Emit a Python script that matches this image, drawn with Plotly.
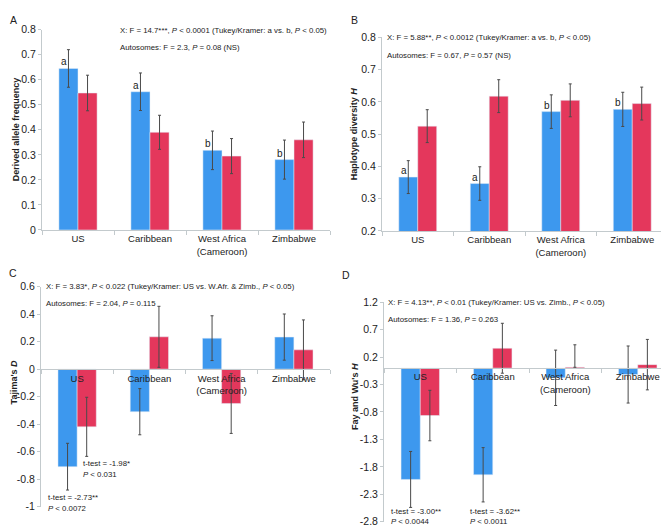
import plotly.graph_objects as go

W, H = 669, 527

categories = ["US", "Caribbean", "West Africa<br>(Cameroon)", "Zimbabwe"]

# A: derived allele frequency
a_x = [0.645, 0.552, 0.318, 0.281]
a_x_err = [0.075, 0.075, 0.077, 0.078]
a_auto = [0.547, 0.390, 0.295, 0.360]
a_auto_err = [0.071, 0.068, 0.070, 0.071]
a_letters = ["a", "a", "b", "b"]

# B: haplotype diversity H
b_x = [0.367, 0.347, 0.570, 0.577]
b_x_err = [0.051, 0.052, 0.052, 0.053]
b_auto = [0.525, 0.618, 0.605, 0.595]
b_auto_err = [0.051, 0.051, 0.051, 0.051]
b_letters = ["a", "a", "b", "b"]

# C: Tajima's D
c_x = [-0.71, -0.31, 0.225, 0.233]
c_x_err = [0.170, 0.168, 0.163, 0.168]
c_auto = [-0.42, 0.235, -0.25, 0.14]
c_auto_err = [0.215, 0.222, 0.218, 0.218]
c_ticks = [-1, -0.8, -0.6, -0.4, -0.2, 0, 0.2, 0.4, 0.6]
c_ticktext = ["-1", "-0.8", "-0.6", "-0.4", "-0.2", "0", "0.2", "0.4", "0.6"]

# D: Fay and Wu's H
d_x = [-2.03, -1.945, -0.177, -0.117]
d_x_err = [0.51, 0.495, 0.505, 0.52]
d_auto = [-0.865, 0.362, 0.015, 0.063]
d_auto_err_plus = [0.46, 0.455, 0.41, 0.46]
d_auto_err_minus = [0.46, 0.455, 0.0, 0.46]
d_ticks = [-2.8, -2.3, -1.8, -1.3, -0.8, -0.3, 0.2, 0.7, 1.2]
d_ticktext = ["-2.8", "-2.3", "-1.8", "-1.3", "-0.8", "-0.3", "0.2", "0.7", "1.2"]

BLUE = "#3d98ee"
RED = "#e4375c"
AXIS = "#c3cacd"
ERR = "#4a4a4a"
TXT = "#222222"
FONT = "Liberation Sans, Arial, sans-serif"


def px(x):
    return x / W


def py(y):
    return 1 - y / H


def err(vals, minus=None):
    d = dict(type="data", array=vals, color=ERR, thickness=1, width=1.5, visible=True)
    if minus is not None:
        d["symmetric"] = False
        d["arrayminus"] = minus
    return d


fig = go.Figure()

panels = [
    ("x", "y", a_x, a_x_err, a_auto, a_auto_err, None),
    ("x2", "y2", b_x, b_x_err, b_auto, b_auto_err, None),
    ("x3", "y3", c_x, c_x_err, c_auto, c_auto_err, None),
    ("x4", "y4", d_x, d_x_err, d_auto, d_auto_err_plus, d_auto_err_minus),
]
for xa, ya, xv, xe, av, ae, am in panels:
    fig.add_trace(go.Bar(x=categories, y=xv, xaxis=xa, yaxis=ya, marker_color=BLUE,
                         error_y=err(xe), showlegend=False))
    fig.add_trace(go.Bar(x=categories, y=av, xaxis=xa, yaxis=ya, marker_color=RED,
                         error_y=err(ae, am), showlegend=False))

tickfont = dict(size=9.5, color=TXT, family=FONT)
ytickfont = dict(size=10.5, color=TXT, family=FONT)


def xaxis(x0, x1, anchor, position=None):
    d = dict(domain=[px(x0), px(x1)], type="category", showline=True, linecolor=AXIS,
             linewidth=1, ticks="outside", tickson="boundaries", ticklen=4,
             tickcolor=AXIS, tickfont=tickfont, showgrid=False, zeroline=False,
             fixedrange=True)
    if position is None:
        d["anchor"] = anchor
    else:
        d["anchor"] = "free"
        d["position"] = position
    return d


def yaxis(y_top, y_bot, rng, dtick, anchor, tickvals=None, ticktext=None):
    d = dict(domain=[py(y_bot), py(y_top)], range=rng, dtick=dtick, anchor=anchor,
             showline=True, linecolor=AXIS, linewidth=1, ticks="outside", ticklen=3,
             tickcolor=AXIS, tickfont=ytickfont, showgrid=False, zeroline=False,
             fixedrange=True)
    if tickvals is not None:
        d["tickmode"] = "array"
        d["tickvals"] = tickvals
        d["ticktext"] = ticktext
    return d


fig.update_layout(
    width=W, height=H,
    margin=dict(l=0, r=0, t=0, b=0),
    paper_bgcolor="white", plot_bgcolor="white",
    barmode="group", bargap=0.47, bargroupgap=0,
    font=dict(family=FONT, color=TXT),
    xaxis=xaxis(34, 322, "y"),
    yaxis=yaxis(16, 221, [0, 0.8], 0.1, "x"),
    xaxis2=xaxis(374, 660, "y2"),
    yaxis2=yaxis(24, 222, [0.2, 0.8], 0.1, "x2"),
    xaxis3=xaxis(33, 322, "y3", position=py(363.4)),
    yaxis3=yaxis(279, 504, [-1, 0.6], 0.2, "x3", c_ticks, c_ticktext),
    xaxis4=xaxis(376, 666, "y4", position=py(362.2)),
    yaxis4=yaxis(295, 519.5, [-2.8, 1.2], 0.5, "x4", d_ticks, d_ticktext),
)

ann = []


def note(x, y, text, size=7.8, xanchor="left", **kw):
    ann.append(dict(x=px(x), y=py(y), xref="paper", yref="paper", text=text,
                    showarrow=False, xanchor=xanchor, yanchor="middle",
                    font=dict(size=size, color=TXT, family=FONT), **kw))


# panel letters
note(5, 6, "A", size=10.5, xanchor="center")
note(346, 6, "B", size=10.5, xanchor="center")
note(5, 265, "C", size=10.5, xanchor="center")
note(338, 267, "D", size=10.5, xanchor="center")

# y-axis titles
for x, y, t in [(8, 118, "Derived allele frequency"),
                (346, 123, "Haplotype diversity <i>H</i>"),
                (6, 377, "Tajima's <i>D</i>"),
                (347, 392, "Fay and Wu's <i>H</i>")]:
    ann.append(dict(x=px(x), y=py(y), xref="paper", yref="paper", text="<b>" + t + "</b>",
                    showarrow=False, textangle=-90, xanchor="center", yanchor="middle",
                    font=dict(size=9, color=TXT, family=FONT)))

# statistics text
note(110, 17, "X: F = 14.7***, <i>P</i> < 0.0001 (Tukey/Kramer: a vs. b, <i>P</i> < 0.05)")
note(110, 34, "Autosomes: F = 2.3, <i>P</i> = 0.08 (NS)")
note(377, 24, "X: F = 5.88**, <i>P</i> < 0.0012 (Tukey/Kramer: a vs. b, <i>P</i> < 0.05)")
note(377, 42, "Autosomes: F = 0.67, <i>P</i> = 0.57 (NS)")
note(36, 279, "X: F = 3.83*, <i>P</i> < 0.022 (Tukey/Kramer: US vs. W.Afr. &amp; Zimb., <i>P</i> < 0.05)")
note(36, 296, "Autosomes: F = 2.04, <i>P</i> = 0.115")
note(378, 295, "X: F = 4.13**, <i>P</i> < 0.01 (Tukey/Kramer: US vs. Zimb., <i>P</i> < 0.05)")
note(378, 313, "Autosomes: F = 1.36, <i>P</i> = 0.263")

# t-tests
note(73, 460, "t-test = -1.98*")
note(73, 471, "<i>P</i> < 0.031")
note(38, 495, "t-test = -2.73**")
note(38, 506, "<i>P</i> < 0.0072")
note(381, 509, "t-test = -3.00**")
note(381, 519, "<i>P</i> < 0.0044")
note(460, 509, "t-test = -3.62**")
note(460, 519, "<i>P</i> < 0.0011")

# group letters above blue bars
for xa, ya, vals, letters in [("x", "y", a_x, a_letters), ("x2", "y2", b_x, b_letters)]:
    for c, v, l in zip(categories, vals, letters):
        ann.append(dict(x=c, y=v, xref=xa, yref=ya, text=l, showarrow=False,
                        xanchor="center", yanchor="bottom", xshift=-14, yshift=-1,
                        font=dict(size=10, color=TXT, family=FONT)))

fig.update_layout(annotations=ann)

fig.write_html("out.html")
